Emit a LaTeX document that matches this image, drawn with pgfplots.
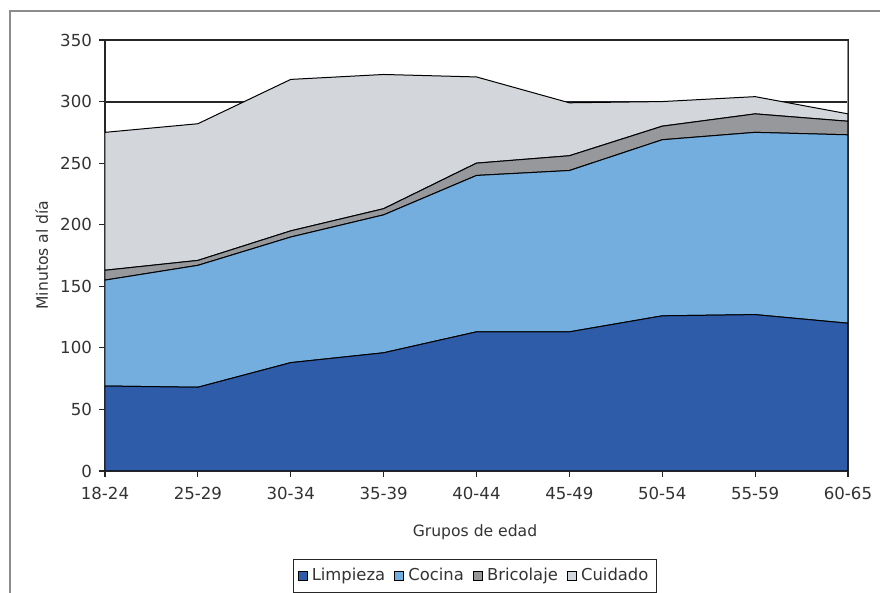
\documentclass[border=0pt]{standalone}
\usepackage{fontspec}
\setmainfont{DejaVu Sans}
\usepackage{pgfplots}
\pgfplotsset{compat=1.18}

\definecolor{limpieza}{RGB}{46,92,168}
\definecolor{cocina}{RGB}{116,174,222}
\definecolor{bricolaje}{RGB}{150,152,156}
\definecolor{cuidado}{RGB}{211,214,219}
\definecolor{marco}{RGB}{140,140,140}

\begin{document}
\begin{tikzpicture}
% page: 440pt x 296.5pt
\useasboundingbox (0,0) rectangle (440pt,296.5pt);
\draw[marco, line width=0.8pt] (5pt,0) -- (5pt,291pt) -- (440pt,291pt);
\begin{axis}[
  at={(52.5pt,61pt)}, anchor=south west,
  scale only axis, width=371.5pt, height=215.5pt,
  xmin=0, xmax=8, ymin=0, ymax=350,
  xtick={0,...,8},
  xticklabels={18-24,25-29,30-34,35-39,40-44,45-49,50-54,55-59,60-65},
  ytick={0,50,...,350},
  stack plots=y, area style,
  axis on top=false,
  ymajorgrids, grid style={black!85, line width=1pt},
  axis line style={black!85, line width=0.9pt},
  tick align=outside, major tick length=3pt,
  tick style={black!85, line width=0.6pt},
  xtick pos=bottom, ytick pos=left,
  ticklabel style={font=\fontsize{8.3}{10}\selectfont, text=black!80},
  xticklabel style={yshift=-1.5pt},
  /pgf/number format/assume math mode=true,
  xlabel={Grupos de edad},
  ylabel={Minutos al día},
  label style={font=\fontsize{7.8}{9}\selectfont, text=black!80},
  xlabel style={at={(axis description cs:0.498,-0.142)}, anchor=center},
  ylabel style={at={(axis description cs:-0.085,0.501)}, anchor=center},
  legend columns=4,
  legend image code/.code={\draw[#1, line width=0.5pt] (0pt,-2.3pt) rectangle (4.6pt,2.3pt);},
  legend style={at={(axis description cs:0.498,-0.244)}, anchor=center,
    draw=black!85, line width=0.7pt, font=\fontsize{8.2}{9}\selectfont,
    text=black!80, inner xsep=2pt, inner ysep=2.5pt,
    /tikz/every even column/.append style={column sep=2.5pt}},
  legend cell align=left,
]
\addplot[fill=limpieza, draw=black, line width=0.5pt]
  coordinates {(0,69) (1,68) (2,88) (3,96) (4,113) (5,113) (6,126) (7,127) (8,120)} \closedcycle;
\addplot[fill=cocina, draw=black, line width=0.5pt]
  coordinates {(0,86) (1,99) (2,102) (3,112) (4,127) (5,131) (6,143) (7,148) (8,153)} \closedcycle;
\addplot[fill=bricolaje, draw=black, line width=0.5pt]
  coordinates {(0,8) (1,4) (2,5) (3,5) (4,10) (5,12) (6,11) (7,15) (8,11)} \closedcycle;
\addplot[fill=cuidado, draw=black, line width=0.5pt]
  coordinates {(0,112) (1,111) (2,123) (3,109) (4,70) (5,43) (6,20) (7,14) (8,6)} \closedcycle;
\legend{Limpieza, Cocina, Bricolaje, Cuidado}
% plot area border, drawn over the filled areas
\draw[black!85, line width=0.9pt] (axis cs:8,0) -- (axis cs:0,0) -- (axis cs:0,350) -- (axis cs:8,350);
\draw[marco, line width=0.9pt] (axis cs:8,0) -- (axis cs:8,350);
\end{axis}
\end{tikzpicture}
\end{document}
